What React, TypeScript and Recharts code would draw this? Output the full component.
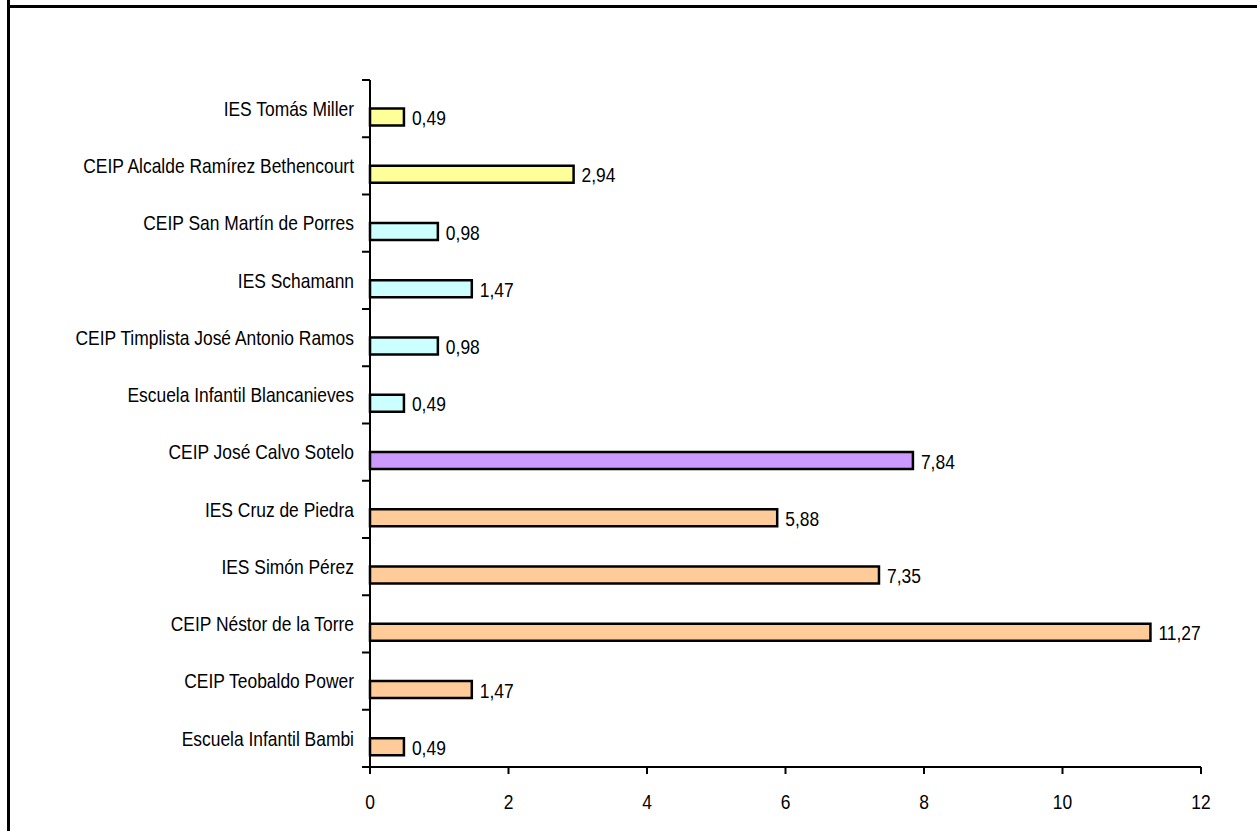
import React from 'react';
import { BarChart, Bar, XAxis, YAxis, Cell, LabelList } from 'recharts';

const schools = [
    'IES Tomás Miller',
    'CEIP Alcalde Ramírez Bethencourt',
    'CEIP San Martín de Porres',
    'IES Schamann',
    'CEIP Timplista José Antonio Ramos',
    'Escuela Infantil Blancanieves',
    'CEIP José Calvo Sotelo',
    'IES Cruz de Piedra',
    'IES Simón Pérez',
    'CEIP Néstor de la Torre',
    'CEIP Teobaldo Power',
    'Escuela Infantil Bambi',
];
const percentages = [0.49, 2.94, 0.98, 1.47, 0.98, 0.49, 7.84, 5.88, 7.35, 11.27, 1.47, 0.49];
const groups = ['a', 'a', 'b', 'b', 'b', 'b', 'c', 'd', 'd', 'd', 'd', 'd'];
const xTicks = [0, 2, 4, 6, 8, 10, 12];

const groupColors: Record<string, string> = {
    a: '#FFFF99',
    b: '#CCFFFF',
    c: '#CC99FF',
    d: '#FFCC99',
};

const data = schools.map((name, i) => ({ name, value: percentages[i], group: groups[i] }));

// Arial Narrow look: Liberation Sans squeezed horizontally
const FONT = '"Liberation Sans", Arial, sans-serif';
const FONT_SIZE = 20.5;
const NARROW = 0.85;

const fmt = (v: number) => v.toFixed(2).replace('.', ',');

const NarrowText = ({ x, y, anchor = 'start', children }: any) => (
    <text
        transform={`translate(${x},${y}) scale(${NARROW},1)`}
        dy="0.35em"
        textAnchor={anchor}
        fontSize={FONT_SIZE}
        fontFamily={FONT}
        fill="#000"
    >
        {children}
    </text>
);

// Excel draws the bar in the lower half of each band
const OffsetBar = (props: any) => {
    const { x, y, width, height, fill } = props;
    return <rect x={x} y={y + height / 2} width={width} height={height} fill={fill} stroke="#000" strokeWidth={2.5} />;
};

const ValueLabel = (props: any) => {
    const { x, y, width, height, value } = props;
    return <NarrowText x={x + width + 8} y={y + height + 1}>{fmt(value)}</NarrowText>;
};

const CategoryTick = (props: any) => {
    const { x, y, payload, index, visibleTicksCount, height } = props;
    const count = visibleTicksCount || schools.length;
    const band = height ? height / count : 57.25;
    return (
        <g>
            <line x1={x - 8} x2={x} y1={y - band / 2} y2={y - band / 2} stroke="#000" strokeWidth={2} />
            {index === count - 1 && (
                <line x1={x - 8} x2={x} y1={y + band / 2} y2={y + band / 2} stroke="#000" strokeWidth={2} />
            )}
            <NarrowText x={x - 16} y={y} anchor="end">{payload.value}</NarrowText>
        </g>
    );
};

const XTick = (props: any) => {
    const { x, y, payload } = props;
    return <NarrowText x={x} y={y + 26} anchor="middle">{payload.value}</NarrowText>;
};

const App: React.FC = () => {
    return (
        <div style={{ position: 'absolute', left: 0, top: 0, width: 1257, height: 831, background: '#fff', overflow: 'hidden' }}>
            <div style={{ position: 'absolute', left: 7, top: 0, width: 3, height: 831, background: '#000' }} />
            <div style={{ position: 'absolute', left: 7, top: 5, width: 1250, height: 3, background: '#000' }} />
            <div style={{ position: 'absolute', left: 0, top: 0 }}>
                <BarChart
                    width={1257}
                    height={831}
                    data={data}
                    layout="vertical"
                    margin={{ top: 80, right: 56, bottom: 24, left: 0 }}
                >
                    <XAxis
                        type="number"
                        domain={[0, 12]}
                        ticks={xTicks}
                        interval={0}
                        height={40}
                        axisLine={{ stroke: '#000', strokeWidth: 2 }}
                        tickLine={{ stroke: '#000', strokeWidth: 2 }}
                        tickSize={7}
                        tick={<XTick />}
                    />
                    <YAxis
                        type="category"
                        dataKey="name"
                        width={370}
                        interval={0}
                        axisLine={{ stroke: '#000', strokeWidth: 2 }}
                        tickLine={false}
                        tickSize={0}
                        tickMargin={0}
                        tick={<CategoryTick />}
                    />
                    <Bar dataKey="value" barSize={17} shape={<OffsetBar />} isAnimationActive={false}>
                        {data.map((d, i) => (
                            <Cell key={`c-${i}`} fill={groupColors[d.group]} />
                        ))}
                        <LabelList dataKey="value" content={<ValueLabel />} />
                    </Bar>
                </BarChart>
            </div>
        </div>
    );
};

export default App;
